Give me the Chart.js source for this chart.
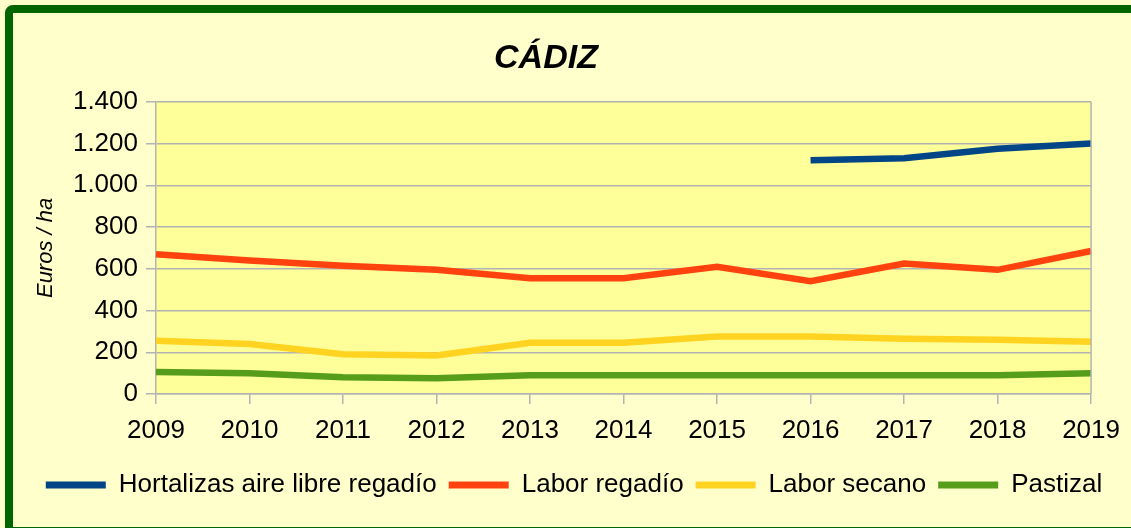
<!DOCTYPE html>
<html>
<head>
<meta charset="utf-8">
<script src="https://cdn.jsdelivr.net/npm/chart.js@4"></script>
<style>
html, body { margin: 0; padding: 0; background: #ffffcc; }
#grafica { display: block; }
</style>
</head>
<body>
<canvas id="grafica" width="1131" height="528"></canvas>
<script>

// DATOS

const anios = ['2009','2010','2011','2012','2013','2014','2015','2016','2017','2018','2019'];

const hortalizas = [null,null,null,null,null,null,null,1120,1130,1175,1200];
const laborRegadio = [670,640,615,595,555,555,610,540,625,595,685];
const laborSecano = [255,240,190,185,245,245,275,275,265,260,250];
const pastizal = [105,100,80,75,90,90,90,90,90,90,100];

const nombres = ['Hortalizas aire libre regadío','Labor regadío','Labor secano','Pastizal'];
const colores = ['#004586','#ff420e','#ffd320','#579d1c'];

const fuente = '"Liberation Sans", Arial, sans-serif';


// FONDO, MARCO Y ÁREA DEL GRÁFICO

const fondo = {
  id: 'fondo',
  beforeDraw(chart){
    const c = chart.ctx;
    const a = chart.chartArea;
    // mover la leyenda un poco a la derecha
    if (chart.legend && !chart.legend._movida) {
      chart.legend.left += 28;
      chart.legend.right += 28;
      chart.legend._movida = true;
    }
    c.save();
    c.fillStyle = '#ffffcc';
    c.fillRect(0, 0, chart.width, chart.height);
    c.fillStyle = '#006400';
    c.beginPath();
    c.moveTo(5, 528);
    c.lineTo(5, 13);
    c.arcTo(5, 5, 13, 5, 8);
    c.lineTo(1131, 5);
    c.lineTo(1131, 13);
    c.lineTo(13, 13);
    c.lineTo(13, 528);
    c.closePath();
    c.fill();
    c.fillRect(13, 527, 1118, 1);
    c.fillStyle = '#ffff99';
    c.fillRect(a.left, a.top, a.right - a.left, a.bottom - a.top);
    c.restore();
  },
  afterDatasetsDraw(chart){
    const c = chart.ctx;
    const a = chart.chartArea;
    c.save();
    c.strokeStyle = '#b3b3b3';
    c.lineWidth = 1.5;
    c.beginPath();
    c.moveTo(a.right, a.top);
    c.lineTo(a.right, a.bottom);
    c.stroke();
    c.restore();
  }
};


// GRÁFICA

const ctx = document.getElementById('grafica');

new Chart(ctx, {

type: 'line',

data: {
  labels: anios,
  datasets: [hortalizas, laborRegadio, laborSecano, pastizal].map((serie, i) => ({
    label: nombres[i],
    data: serie,
    borderColor: colores[i],
    backgroundColor: colores[i],
    borderWidth: 6.5,
    pointRadius: 0,
    tension: 0,
    clip: false
  }))
},

options: {
  responsive: false,
  animation: false,
  layout: { padding: { left: 0, right: 39, top: 0, bottom: 20 } },
  plugins: {
    title: {
      display: true,
      text: 'CÁDIZ',
      color: '#000',
      font: { family: fuente, size: 34, weight: 'bold', style: 'italic' },
      padding: { top: 38, bottom: 23 }
    },
    legend: {
      position: 'bottom',
      labels: {
        color: '#000',
        font: { family: fuente, size: 26 },
        boxWidth: 60,
        boxHeight: 7,
        padding: 12,
        generateLabels(chart){
          return chart.data.datasets.map((d, i) => ({
            text: d.label,
            fillStyle: d.borderColor,
            strokeStyle: d.borderColor,
            lineWidth: 0,
            datasetIndex: i
          }));
        }
      }
    },
    tooltip: { enabled: false }
  },
  scales: {
    x: {
      offset: false,
      grid: { drawOnChartArea: false, drawTicks: true, tickLength: 10, color: '#b3b3b3', lineWidth: 1.5 },
      border: { display: true, color: '#b3b3b3', width: 1.5 },
      ticks: { color: '#000', font: { family: fuente, size: 26 }, padding: 11, maxRotation: 0, autoSkip: false },
      afterFit(scale){ scale.height = 66; }
    },
    y: {
      min: 0,
      max: 1400,
      ticks: {
        stepSize: 200,
        color: '#000',
        font: { family: fuente, size: 26 },
        padding: 8,
        callback: v => v.toLocaleString('de-DE')
      },
      grid: { color: '#b3b3b3', lineWidth: 1.5, tickLength: 10 },
      border: { display: true, color: '#b3b3b3', width: 1.5 },
      title: {
        display: true,
        text: 'Euros / ha',
        color: '#000',
        font: { family: fuente, size: 22, style: 'italic' },
        padding: { top: 33, bottom: 0 }
      },
      afterFit(scale){ scale.width = 156; }
    }
  }
},

plugins: [fondo]

});

</script>
</body>
</html>
